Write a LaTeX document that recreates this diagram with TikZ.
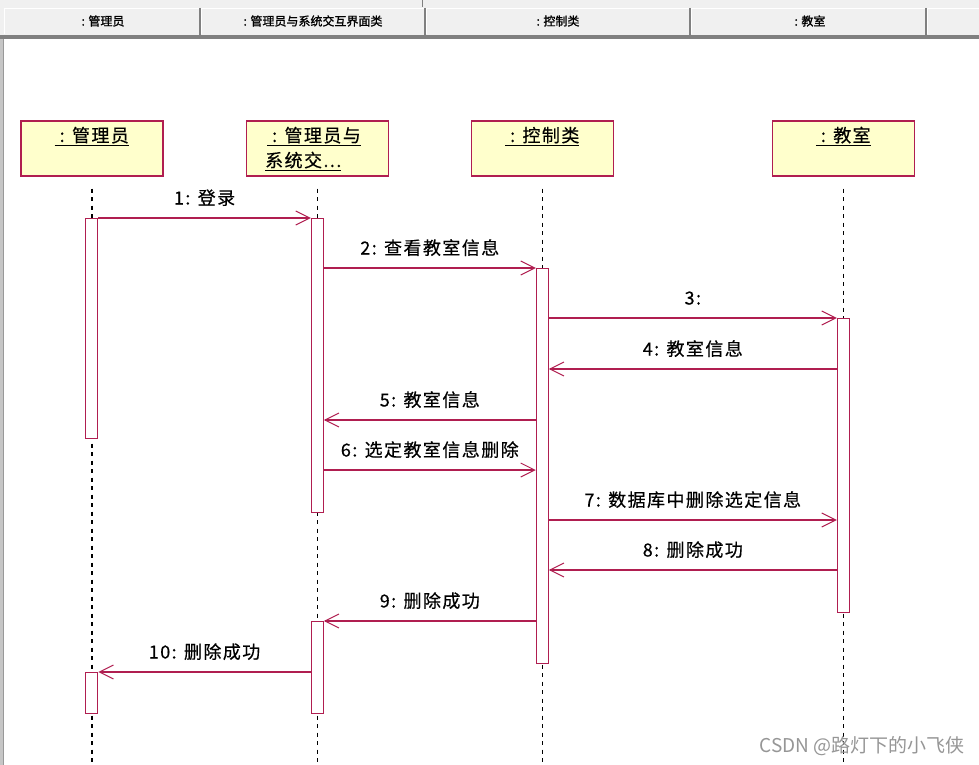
\documentclass[tikz,border=0pt]{standalone}
\usepackage{fontspec}
\usetikzlibrary{arrows.meta,calc}
\newfontfamily\cjk[LetterSpace=8,FakeBold=0.4]{Noto Sans CJK SC}
\newfontfamily\cjkhead[FakeBold=1.2]{Noto Sans CJK SC}
\newfontfamily\cjkplain{Noto Sans CJK SC}
\definecolor{crim}{RGB}{176,30,80}
\definecolor{boxy}{RGB}{255,255,204}
\definecolor{hdr}{RGB}{240,240,240}
\definecolor{hdrdark}{RGB}{128,128,128}
\definecolor{wmgray}{RGB}{150,150,150}
\begin{document}
\begin{tikzpicture}[x=1pt,y=-1pt,
  lifebox/.style={draw=crim, line width=1.6pt, fill=boxy, minimum width=142pt, minimum height=55pt, inner sep=0pt, anchor=north west},
  boxlabel/.style={inner sep=0pt, anchor=base, font=\cjk\fontsize{18}{20}\selectfont},
  act/.style={draw=crim, fill=white, line width=1.1pt, minimum width=12pt, inner sep=0pt, anchor=north},
  lifeline/.style={draw=black, line width=1.5pt, dash pattern=on 4pt off 4.5pt},
  msg/.style={draw=crim, line width=1.1pt, -{Straight Barb[length=14pt,width=14pt,line width=1pt]}},
  msglabel/.style={inner sep=0pt, anchor=base, yshift=13.5pt, font=\cjk\fontsize{18}{20}\selectfont},
  hdrtext/.style={inner sep=0pt, anchor=center, font=\cjkhead\fontsize{12}{14}\selectfont}
]
\useasboundingbox (0,0) rectangle (979,765);
\fill[white] (0,0) rectangle (979,765);
% header
\fill[hdr] (0,0) rectangle (979,36);
\draw[hdrdark, line width=1pt] (422,0) -- (422,7);
\fill[hdrdark] (0,35.5) rectangle (979,39);
\foreach \xa/\xb in {3/200,200/425,425/690,690/926,926/985}{
  \draw[white, line width=1pt] (\xa+1.5,34) -- (\xa+1.5,8.5) -- (\xb-1.5,8.5);
  \draw[hdrdark, line width=2pt] (\xb,8) -- (\xb,35.5);
}
\node[hdrtext] (h1) at (103,21) {: 管理员};
\node[hdrtext] (h2) at (313,21) {: 管理员与系统交互界面类};
\node[hdrtext] (h3) at (558,21) {: 控制类};
\node[hdrtext] (h4) at (810,21) {: 教室};
% left border
\fill[gray!45] (0,39) rectangle (4,765);
\draw[gray!80, line width=1pt] (3.5,39) -- (3.5,765);

% lifeline boxes
\node[lifebox] (b1) at (20,120) {};
\node[lifebox] (b2) at (245.5,120) {};
\node[lifebox] (b3) at (470.5,120) {};
\node[lifebox] (b4) at (771.5,120) {};
\node[boxlabel] (l1) at (b1.north |- 0,142) {\underline{\hspace{5pt}: 管理员}};
\node[boxlabel, anchor=base west] (l2a) at (267,142) {\underline{\hspace{5pt}: 管理员与}};
\node[boxlabel, anchor=base west] (l2b) at (265,167) {\underline{系统交...}};
\node[boxlabel] (l3) at (b3.north |- 0,142) {\underline{\hspace{5pt}: 控制类}};
\node[boxlabel] (l4) at (b4.north |- 0,142) {\underline{\hspace{5pt}: 教室}};

% lifelines
\foreach \b in {b1,b2,b3,b4}{
  \draw[lifeline] ([yshift=-12pt]\b.south) -- (\b.south |- 0,765);
}

% activations
\node[act, minimum height=220pt] (a1) at (b1.south |- 0,218) {};
\node[act, minimum height=294pt] (a2) at (b2.south |- 0,218) {};
\node[act, minimum height=395pt] (a3) at (b3.south |- 0,268) {};
\node[act, minimum height=294pt] (a4) at (b4.south |- 0,318) {};
\node[act, minimum height=92pt] (a5) at (b2.south |- 0,621) {};
\node[act, minimum height=41pt] (a6) at (b1.south |- 0,672) {};

% messages
\draw[msg] (a1.north east) -- (a2.north west) node[msglabel, midway] {1: 登录};
\draw[msg] (a2.east |- a3.north) -- (a3.north west) node[msglabel, midway] {2: 查看教室信息};
\draw[msg] (a3.east |- a4.north) -- (a4.north west) node[msglabel, midway] {3:};
\draw[msg] (a4.west |- 0,369) -- (a3.east |- 0,369) node[msglabel, midway] {4: 教室信息};
\draw[msg] (a3.west |- 0,420) -- (a2.east |- 0,420) node[msglabel, midway] {5: 教室信息};
\draw[msg] (a2.east |- 0,470) -- (a3.west |- 0,470) node[msglabel, midway] {6: 选定教室信息删除};
\draw[msg] (a3.east |- 0,520) -- (a4.west |- 0,520) node[msglabel, midway] {7: 数据库中删除选定信息};
\draw[msg] (a4.west |- 0,570) -- (a3.east |- 0,570) node[msglabel, midway] {8: 删除成功};
\draw[msg] (a3.west |- a5.north) -- (a5.north east) node[msglabel, midway] {9: 删除成功};
\draw[msg] (a5.west |- a6.north) -- (a6.north east) node[msglabel, midway] {10: 删除成功};

% watermark
\node[inner sep=0pt, anchor=east, text=wmgray, font=\cjkplain\fontsize{19}{20}\selectfont] (wm) at (965,746) {CSDN @路灯下的小飞侠};
\end{tikzpicture}
\end{document}
